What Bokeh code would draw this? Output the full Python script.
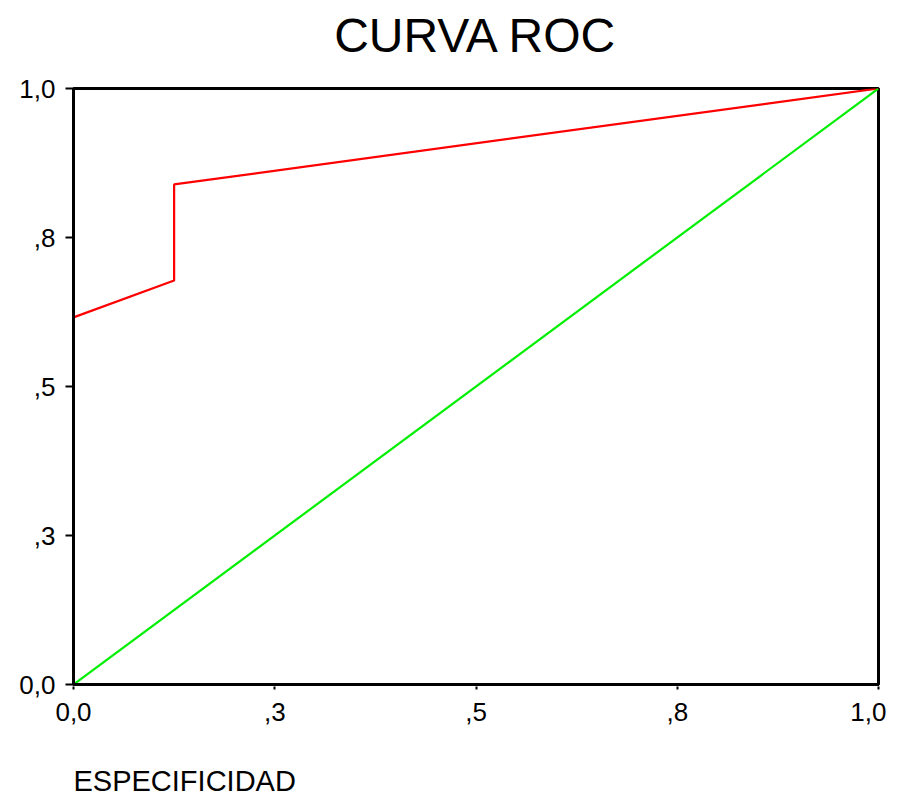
from bokeh.plotting import figure
from bokeh.models import FixedTicker, Range1d
from bokeh.layouts import column
from bokeh.core.properties import value
from bokeh.embed import file_html
from bokeh.resources import INLINE

# Data
roc_x = [0.0, 0.0, 0.125, 0.125, 1.0]
roc_y = [0.0, 0.616, 0.678, 0.839, 1.0]
ref_x = [0.0, 1.0]
ref_y = [0.0, 1.0]
tick_values = [0.0, 0.25, 0.5, 0.75, 1.0]
tick_labels = ["0,0", ",3", ",5", ",8", "1,0"]
title_text = "CURVA ROC"
xlabel_text = "ESPECIFICIDAD"

FONT = "Liberation Sans"
W = 886
LEFT, RIGHT = 73, 8
TOP_H, MAIN_H, BOT_H = 72, 662, 64


def text_strip(height):
    f = figure(width=W, height=height, output_backend="svg", toolbar_location=None,
               x_range=Range1d(0, 1), y_range=Range1d(0, height),
               x_axis_location=None, y_axis_location=None,
               min_border_left=LEFT, min_border_right=RIGHT,
               min_border_top=0, min_border_bottom=0)
    f.grid.visible = False
    f.outline_line_color = None
    return f


# Title strip
top = text_strip(TOP_H)
top.text(x=[0.5], y=[TOP_H - 35], text=[title_text], text_align="center",
         text_baseline="alphabetic", text_font=value(FONT), text_font_size="48px",
         text_color="black")

# Main plot
p = figure(width=W, height=MAIN_H, output_backend="svg", toolbar_location=None,
           x_range=Range1d(0, 1), y_range=Range1d(0, 1),
           min_border_left=LEFT, min_border_right=RIGHT, min_border_top=16, min_border_bottom=50)

p.line(roc_x, roc_y, line_color="#ff0000", line_width=2.2)
p.line(ref_x, ref_y, line_color="#00ee00", line_width=2.2)

p.grid.visible = False
p.outline_line_color = "black"
p.outline_line_width = 3
p.outline_line_alpha = 1

for ax in (p.xaxis[0], p.yaxis[0]):
    ax.ticker = FixedTicker(ticks=tick_values)
    ax.major_label_overrides = {v: l for v, l in zip(tick_values, tick_labels)}
    ax.minor_tick_line_color = None
    ax.axis_line_color = "black"
    ax.axis_line_width = 3
    ax.major_tick_line_color = "black"
    ax.major_label_text_font = FONT
    ax.major_label_text_font_size = "26px"
    ax.major_label_text_color = "black"

p.yaxis.major_tick_in = 0
p.yaxis.major_tick_out = 8
p.yaxis.major_tick_line_width = 2
p.yaxis.major_label_standoff = 10

p.xaxis.major_tick_in = -2
p.xaxis.major_tick_out = 5
p.xaxis.major_tick_line_width = 2
p.xaxis.major_label_standoff = 13

# X label strip
bot = text_strip(BOT_H)
bot.text(x=[0.0], y=[BOT_H - 46], text=[xlabel_text], text_align="left",
         text_baseline="alphabetic", text_font=value(FONT), text_font_size="29px",
         text_color="black")

layout = column(top, p, bot, spacing=0)
open("out.html", "w").write(file_html(layout, INLINE))
